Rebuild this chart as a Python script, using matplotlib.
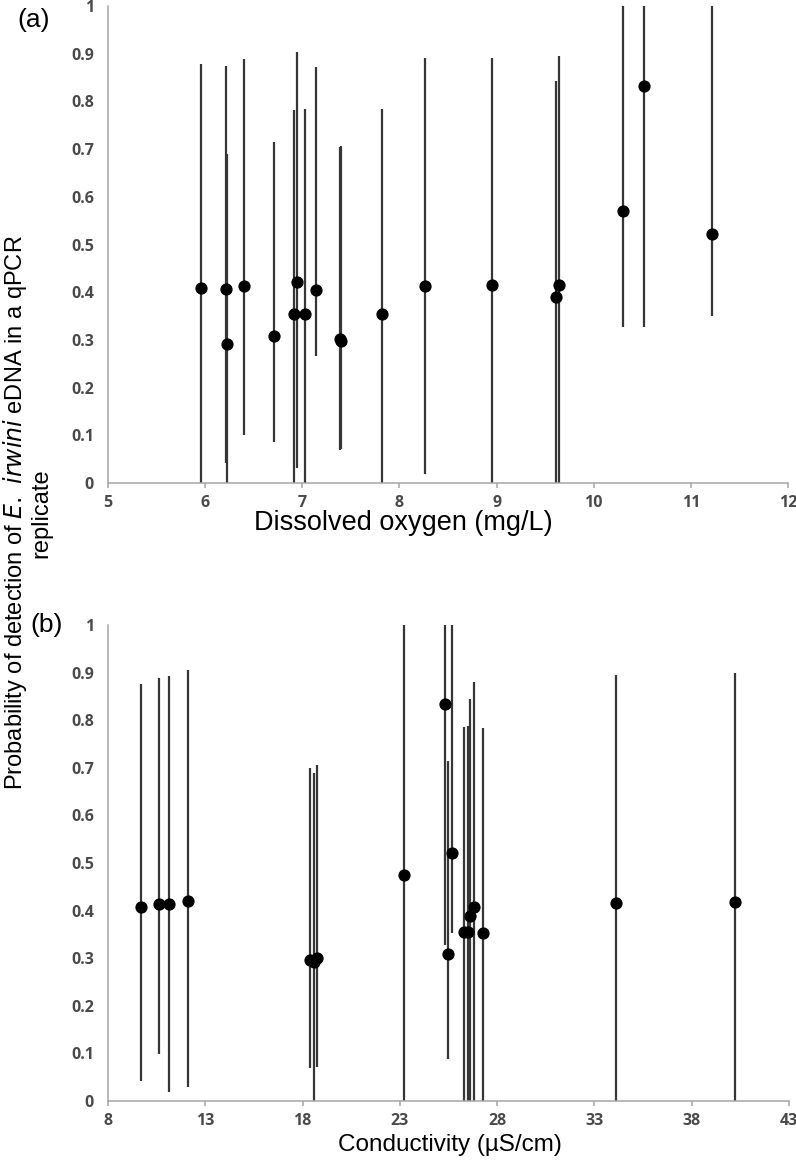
import matplotlib
matplotlib.use("Agg")
import matplotlib.pyplot as plt

# ---------------- data ----------------
# Panel (a): dissolved oxygen (mg/L)
do_x = [5.955, 6.21, 6.22, 6.40, 6.71, 6.91, 6.95, 7.03, 7.14, 7.39, 7.40,
        7.82, 8.26, 8.95, 9.61, 9.64, 10.30, 10.52, 11.22]
do_p = [0.409, 0.406, 0.292, 0.413, 0.308, 0.354, 0.421, 0.354, 0.405, 0.302, 0.297,
        0.354, 0.414, 0.416, 0.390, 0.416, 0.570, 0.832, 0.522]
do_lo = [0.0, 0.041, 0.0, 0.100, 0.086, 0.0, 0.031, 0.0, 0.266, 0.070, 0.072,
         0.0, 0.019, 0.0, 0.0, 0.0, 0.328, 0.328, 0.351]
do_hi = [0.879, 0.874, 0.690, 0.888, 0.714, 0.782, 0.904, 0.784, 0.872, 0.704, 0.706,
         0.785, 0.891, 0.891, 0.842, 0.895, 1.0, 1.0, 1.0]

# Panel (b): conductivity (uS/cm)
cond_x = [9.71, 10.60, 11.12, 12.11, 18.40, 18.57, 18.74, 23.21, 25.30, 25.49,
          25.69, 26.31, 26.50, 26.60, 26.79, 27.29, 34.09, 40.20]
cond_p = [0.407, 0.413, 0.414, 0.421, 0.296, 0.291, 0.300, 0.475, 0.833, 0.308,
          0.522, 0.354, 0.354, 0.389, 0.408, 0.353, 0.415, 0.418]
cond_lo = [0.041, 0.099, 0.018, 0.029, 0.069, 0.0, 0.072, 0.0, 0.328, 0.088,
           0.352, 0.0, 0.0, 0.0, 0.0, 0.0, 0.0, 0.0]
cond_hi = [0.877, 0.889, 0.893, 0.906, 0.700, 0.690, 0.705, 1.0, 1.0, 0.715,
           1.0, 0.786, 0.787, 0.845, 0.881, 0.784, 0.895, 0.899]

y_ticks = [0, 0.1, 0.2, 0.3, 0.4, 0.5, 0.6, 0.7, 0.8, 0.9, 1.0]
y_ticklabels = ["0", "0.1", "0.2", "0.3", "0.4", "0.5", "0.6", "0.7", "0.8", "0.9", "1"]
do_ticks = [5, 6, 7, 8, 9, 10, 11, 12]
cond_ticks = [8, 13, 18, 23, 28, 33, 38, 43]

# ---------------- figure ----------------
W, H = 796, 1165
fig = plt.figure(figsize=(W / 100, H / 100), dpi=100)

def px_axes(left, top, right, bottom):
    return fig.add_axes([left / W, 1 - bottom / H, (right - left) / W, (bottom - top) / H])

ax_a = px_axes(108, 6, 788, 483)
ax_b = px_axes(108, 625, 789, 1101)

tick_font = dict(family="Open Sans", size=11.5, color="#4a4a4a", weight="bold")
spine_col = "#a6a6a6"

def style(ax, xlim, xticks):
    ax.set_xlim(*xlim)
    ax.set_ylim(0, 1)
    ax.set_xticks(xticks)
    ax.set_xticklabels([str(t) for t in xticks], fontdict=tick_font)
    ax.set_yticks(y_ticks)
    ax.set_yticklabels(y_ticklabels, fontdict=tick_font)
    for s in ("top", "right"):
        ax.spines[s].set_visible(False)
    for s in ("left", "bottom"):
        ax.spines[s].set_color(spine_col)
        ax.spines[s].set_linewidth(1.1)
    ax.tick_params(axis="x", direction="out", length=3.5, width=1.1, color=spine_col, pad=5)
    ax.tick_params(axis="y", length=0, pad=10)

def draw(ax, x, p, lo, hi):
    ax.vlines(x, lo, hi, colors="#363636", linewidth=1.6, zorder=2)
    ax.plot(x, p, "o", color="black", markersize=7.8, zorder=3, linestyle="none")

draw(ax_a, do_x, do_p, do_lo, do_hi)
draw(ax_b, cond_x, cond_p, cond_lo, cond_hi)
style(ax_a, (5, 12), do_ticks)
style(ax_b, (8, 43), cond_ticks)

fig.text(403 / W, 1 - 523 / H, "Dissolved oxygen (mg/L)", ha="center", va="center",
         family="Liberation Sans", size=19.5, color="black")
fig.text(450 / W, 1 - 1145 / H, "Conductivity (\u00b5S/cm)", ha="center", va="center",
         family="Liberation Sans", size=17.5, color="black")
ylab = dict(family="Liberation Sans", size=17.0, color="black", rotation=90,
            ha="center", va="center")
fig.text(15 / W, 1 - 513 / H,
         "Probability of detection of $\\it{E.\\ irwini}$ eDNA in a qPCR", **ylab)
fig.text(41 / W, 1 - 513 / H, "replicate", **ylab)

fig.text(34 / W, 1 - 20 / H, "(a)", ha="center", va="center", family="Liberation Sans", size=19)
fig.text(47 / W, 1 - 625 / H, "(b)", ha="center", va="center", family="Liberation Sans", size=19)

fig.savefig("out.png", dpi=100)
